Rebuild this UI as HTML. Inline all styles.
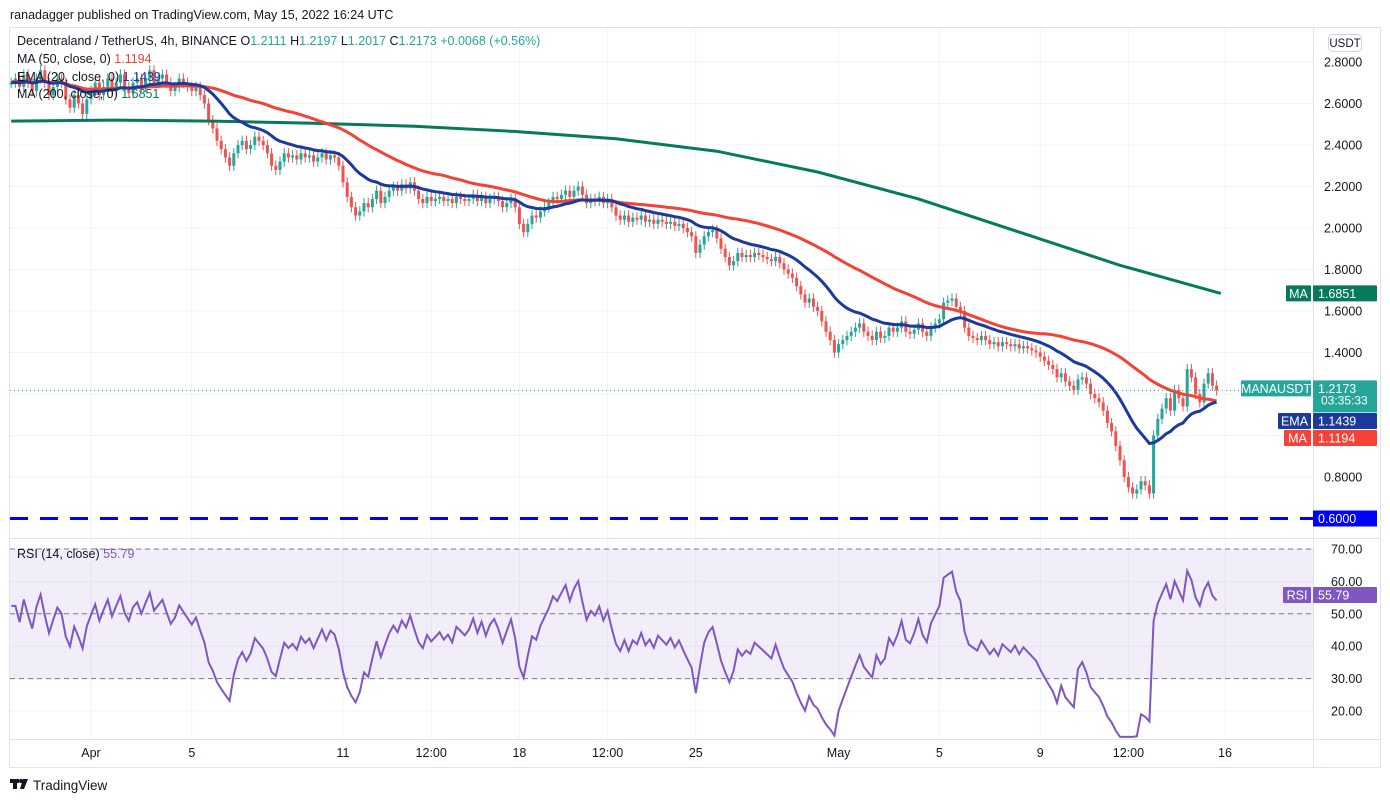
<!DOCTYPE html>
<html><head><meta charset="utf-8">
<style>
body{margin:0;background:#fff;font-family:"Liberation Sans",sans-serif;}
#wrap{position:relative;width:1390px;height:802px;overflow:hidden;}
svg text{font-family:"Liberation Sans",sans-serif;}
</style></head>
<body>
<div id="wrap">
<svg id="chart" width="1390" height="802">
<text x="10" y="19" font-size="12.5" fill="#131722">ranadagger published on TradingView.com, May 15, 2022 16:24 UTC</text>
<rect x="9.5" y="27.5" width="1371" height="740" fill="none" stroke="#e0e3eb"/>
<g id="grid"></g>
<g id="rsiBg"></g>
<g id="marks"></g>
<g id="axes"></g>
<g id="legend" font-size="12.5">
<text x="17" y="45" fill="#131722">Decentraland / TetherUS, 4h, BINANCE <tspan>O</tspan><tspan fill="#26a69a">1.2111</tspan> H<tspan fill="#26a69a">1.2197</tspan> L<tspan fill="#26a69a">1.2017</tspan> C<tspan fill="#26a69a">1.2173</tspan> <tspan fill="#26a69a">+0.0068 (+0.56%)</tspan></text>
<text x="17" y="63" fill="#131722">MA (50, close, 0) <tspan fill="#f44336">1.1194</tspan></text>
<text x="17" y="81" fill="#131722">EMA (20, close, 0) <tspan fill="#1c3a9c">1.1439</tspan></text>
<text x="17" y="98" fill="#131722">MA (200, close, 0) <tspan fill="#057a5c">1.6851</tspan></text>
<text x="17" y="558" fill="#131722">RSI (14, close) <tspan fill="#7e57c2">55.79</tspan></text>
</g>
<g>
<rect x="10" y="779" width="9" height="4" fill="#131722"/>
<rect x="13" y="779" width="4" height="10" fill="#131722"/>
<circle cx="21" cy="781" r="2" fill="#131722"/>
<polygon points="23,779 28,779 24,789 20,789" fill="#131722"/>
<text x="33" y="790" font-size="13.5" fill="#131722">TradingView</text>
</g>
</svg>
</div>
<script>
const closes=[2.70,2.72,2.68,2.74,2.70,2.66,2.72,2.76,2.70,2.64,2.68,2.72,2.70,2.62,2.58,2.64,2.60,2.55,2.62,
2.66,2.70,2.64,2.68,2.72,2.66, 2.70,2.74,2.68,2.65,2.70,2.72, 2.68,2.72,2.76,2.70,2.72,2.74, 2.70,2.66,2.68,2.72,2.70,2.68,
2.66,2.68,2.64,2.60,2.52,2.48, 2.42,2.38,2.34,2.30,2.36,2.40, 2.42,2.38,2.40,2.44,2.42,2.40, 2.36,2.30,2.28,2.32,2.36,2.34,
2.35,2.33,2.36,2.34,2.35,2.32, 2.34,2.36,2.33,2.35,2.34,2.30, 2.22,2.15,2.10,2.06,2.08,2.12, 2.10,2.14,2.18,2.12,2.15,2.18,
2.20,2.18,2.21,2.19,2.22,2.18, 2.14,2.12,2.15,2.13,2.14,2.15, 2.13,2.14,2.12,2.15,2.14,2.13, 2.14,2.16,2.13,2.15,2.12,2.14,
2.15,2.13,2.10,2.12,2.14,2.10, 2.02,1.98,2.02,2.06,2.05,2.08, 2.10,2.12,2.15,2.14,2.16,2.18, 2.15,2.18,2.20,2.16,2.12,2.14,
2.13,2.15,2.12,2.14,2.10,2.06, 2.04,2.06,2.03,2.05,2.04,2.06, 2.03,2.04,2.02,2.04,2.03,2.02, 2.03,2.01,2.02,2.00,1.98,1.96,
1.88,1.92,1.96,1.98,1.99,1.95, 1.90,1.86,1.82,1.84,1.88,1.86, 1.87,1.86,1.88,1.87,1.86,1.85, 1.84,1.86,1.83,1.80,1.78,1.76,
1.72,1.68,1.64,1.66,1.62,1.60, 1.55,1.50,1.46,1.40,1.44,1.46, 1.48,1.50,1.52,1.54,1.50,1.48, 1.46,1.50,1.47,1.48,1.52,1.50,
1.52,1.55,1.50,1.49,1.51,1.54, 1.50,1.48,1.52,1.54,1.56,1.64, 1.65,1.66,1.62,1.60,1.52,1.48, 1.47,1.46,1.48,1.46,1.44,1.45,
1.43,1.45,1.44,1.43,1.44,1.42, 1.43,1.42,1.41,1.40,1.38,1.36, 1.34,1.32,1.28,1.30,1.26,1.24, 1.22,1.27,1.28,1.25,1.20,1.18,
1.16,1.12,1.06,1.02,0.95,0.88, 0.80,0.75,0.72,0.74,0.78,0.76, 0.72,1.00,1.08,1.13,1.18,1.12, 1.22,1.18,1.14,1.32,1.28,1.20,
1.16,1.25,1.30,1.24,1.2173];
const ma200Samples=[2.515,2.52,2.515,2.505,2.49,2.465,2.43,2.37,2.27,2.14,1.98,1.82,1.685];
const ma200Step=24;
const priceTicks=[2.8,2.6,2.4,2.2,2.0,1.8,1.6,1.4,1.2,1.0,0.8];
const rsiTicks=[70,60,50,40,30,20];
const timeLabels=["Apr","5","11","12:00","18","12:00","25","May","5","9","12:00","16"];
const timeIdx=[19,43,79,100,121,142,163,197,221,245,266,289];
const supportLevel=0.6;
const tagValues={ma200:1.6851,ema20:1.1439,ma50:1.1194,rsi:55.79};

const NS="http://www.w3.org/2000/svg";
const X0=10,X1=1313,x=i=>91+(i-19)*4.2;
const py=p=>62+(2.8-p)*207.5;
const ry=r=>549+(70-r)*3.24;
function mk(parent,tag,attrs){const e=document.createElementNS(NS,tag);for(const k in attrs)e.setAttribute(k,attrs[k]);parent.appendChild(e);return e;}
const grid=document.getElementById('grid'),marks=document.getElementById('marks'),axes=document.getElementById('axes'),rbg=document.getElementById('rsiBg');

priceTicks.forEach(p=>{const l=mk(grid,'line',{x1:X0,x2:X1,y1:py(p),y2:py(p),stroke:'#f0f3fa'});

});
timeIdx.forEach(i=>{const l=mk(grid,'line',{x1:x(i),x2:x(i),y1:28,y2:739,stroke:'#f0f3fa'});

});
rsiTicks.forEach(r=>{const l=mk(grid,'line',{x1:X0,x2:X1,y1:ry(r),y2:ry(r),stroke:'#f0f3fa'});

});
const band=mk(rbg,'rect',{x:X0,y:ry(70),width:X1-X0,height:ry(30)-ry(70),fill:'#7e57c2','fill-opacity':0.1});


[70,50,30].forEach(r=>{const l=mk(rbg,'line',{x1:X0,x2:X1,y1:ry(r),y2:ry(r),stroke:'#787b86','stroke-dasharray':'5 4'});

});

[[X0,538.5,1380,538.5],[X0,739.5,1380,739.5],[X1+.5,28,X1+.5,767]].forEach(c=>{const l=mk(axes,'line',{x1:c[0],y1:c[1],x2:c[2],y2:c[3],stroke:'#e0e3eb'});

});

const sup=mk(marks,'line',{x1:X0,x2:X1,y1:py(supportLevel),y2:py(supportLevel),stroke:'#0000ff','stroke-width':3,'stroke-dasharray':'18 12'});



closes.forEach((c,i)=>{const o=i?closes[i-1]:c;const up=c>=o;const col=up?'#26a69a':'#ef5350';
const hi=Math.max(o,c)+0.025,lo=Math.min(o,c)-0.025;const g=mk(marks,'g',{});


mk(g,'line',{x1:x(i),x2:x(i),y1:py(hi),y2:py(lo),stroke:col,'stroke-width':1});
const t=Math.min(py(o),py(c)),b=Math.max(py(o),py(c));
mk(g,'rect',{x:x(i)-1.5,y:t,width:3,height:Math.max(1.5,b-t),fill:col});});

function pathFrom(vals,xf){return vals.map((v,i)=>(i?'L':'M')+xf(i).toFixed(1)+','+py(v).toFixed(1)).join('');}
const ema=[];closes.forEach((c,i)=>{ema.push(i?ema[i-1]+(c-ema[i-1])*2/21:c);});
const ma50=closes.map((c,i)=>{const s=closes.slice(Math.max(0,i-49),i+1);return s.reduce((a,b)=>a+b,0)/s.length;});
const p200=mk(marks,'path',{d:pathFrom(ma200Samples,k=>x(k*ma200Step)),fill:'none',stroke:'#057a5c','stroke-width':3});


const p50=mk(marks,'path',{d:pathFrom(ma50,x),fill:'none',stroke:'#f44336','stroke-width':3});


const p20=mk(marks,'path',{d:pathFrom(ema,x),fill:'none',stroke:'#1c3a9c','stroke-width':3});


const last=closes[closes.length-1];
const pl=mk(marks,'line',{x1:X0,x2:X1,y1:py(last),y2:py(last),stroke:'#26a69a','stroke-dasharray':'1 3'});



const rsi=[];let ag=0.015,al=0.015;
for(let i=1;i<closes.length;i++){const d=closes[i]-closes[i-1];const g=Math.max(d,0),l=Math.max(-d,0);
ag=(ag*13+g)/14;al=(al*13+l)/14;
rsi[i]=100-100/(1+ag/al);}
rsi[0]=rsi[1];
const rp=mk(marks,'path',{d:rsi.map((v,i)=>(i?'L':'M')+x(i).toFixed(1)+','+ry(Math.max(12,Math.min(78,v))).toFixed(1)).join(''),fill:'none',stroke:'#7e57c2','stroke-width':2});



function txt(p,s,a,name){const t=mk(p,'text',a);t.textContent=s;return t;}
priceTicks.forEach(p=>txt(axes,p.toFixed(4),{x:1324,y:py(p)+4.5,'font-size':12.5,fill:'#131722'},'price-tick-label'));
rsiTicks.forEach(r=>txt(axes,r.toFixed(2),{x:1331,y:ry(r)+4.5,'font-size':12.5,fill:'#131722'},'rsi-tick-label'));
timeLabels.forEach((s,k)=>txt(axes,s,{x:x(timeIdx[k]),y:757,'font-size':12.5,fill:'#131722','text-anchor':'middle'},'time-tick-label'));
const ub=mk(axes,'rect',{x:1328.5,y:34.5,width:33,height:17,rx:4,fill:'#fff',stroke:'#d1d4dc'});


txt(axes,'USDT',{x:1345,y:47,'font-size':11.5,fill:'#131722','text-anchor':'middle'},'currency-label');

function tag(label,val,y,col,tagX,h){const g=mk(axes,'g',{});


mk(g,'rect',{x:tagX,y:y-8,width:1311-tagX,height:16,fill:col,rx:1});
mk(g,'rect',{x:1313,y:y-8,width:64,height:h||16,fill:col,rx:1});
const a=mk(g,'text',{x:(tagX+1311)/2,y:y+4.5,'font-size':12.5,fill:'#fff','text-anchor':'middle'});a.textContent=label;
const b=mk(g,'text',{x:1318,y:y+4.5,'font-size':12.5,fill:'#fff'});b.textContent=val;return g;}
tag('MA',tagValues.ma200.toFixed(4),py(ma200Samples[ma200Samples.length-1]),'#057a5c',1286);
const mt=tag('MANAUSDT',last.toFixed(4),py(last)-2,'#26a69a',1241,32);
txt(mt,'03:35:33',{x:1321,y:py(last)+14,'font-size':12,fill:'#fff'},'countdown');
tag('EMA',tagValues.ema20.toFixed(4),421,'#1c3a9c',1278);
tag('MA',tagValues.ma50.toFixed(4),438,'#f44336',1284);
const sb=mk(axes,'rect',{x:1313,y:py(supportLevel)-8,width:64,height:16,fill:'#0000ff'});


txt(axes,supportLevel.toFixed(4),{x:1318,y:py(supportLevel)+4.5,'font-size':12.5,fill:'#fff'},'support-value');
tag('RSI',tagValues.rsi.toFixed(2),595,'#7e57c2',1283);
</script>
</body></html>
